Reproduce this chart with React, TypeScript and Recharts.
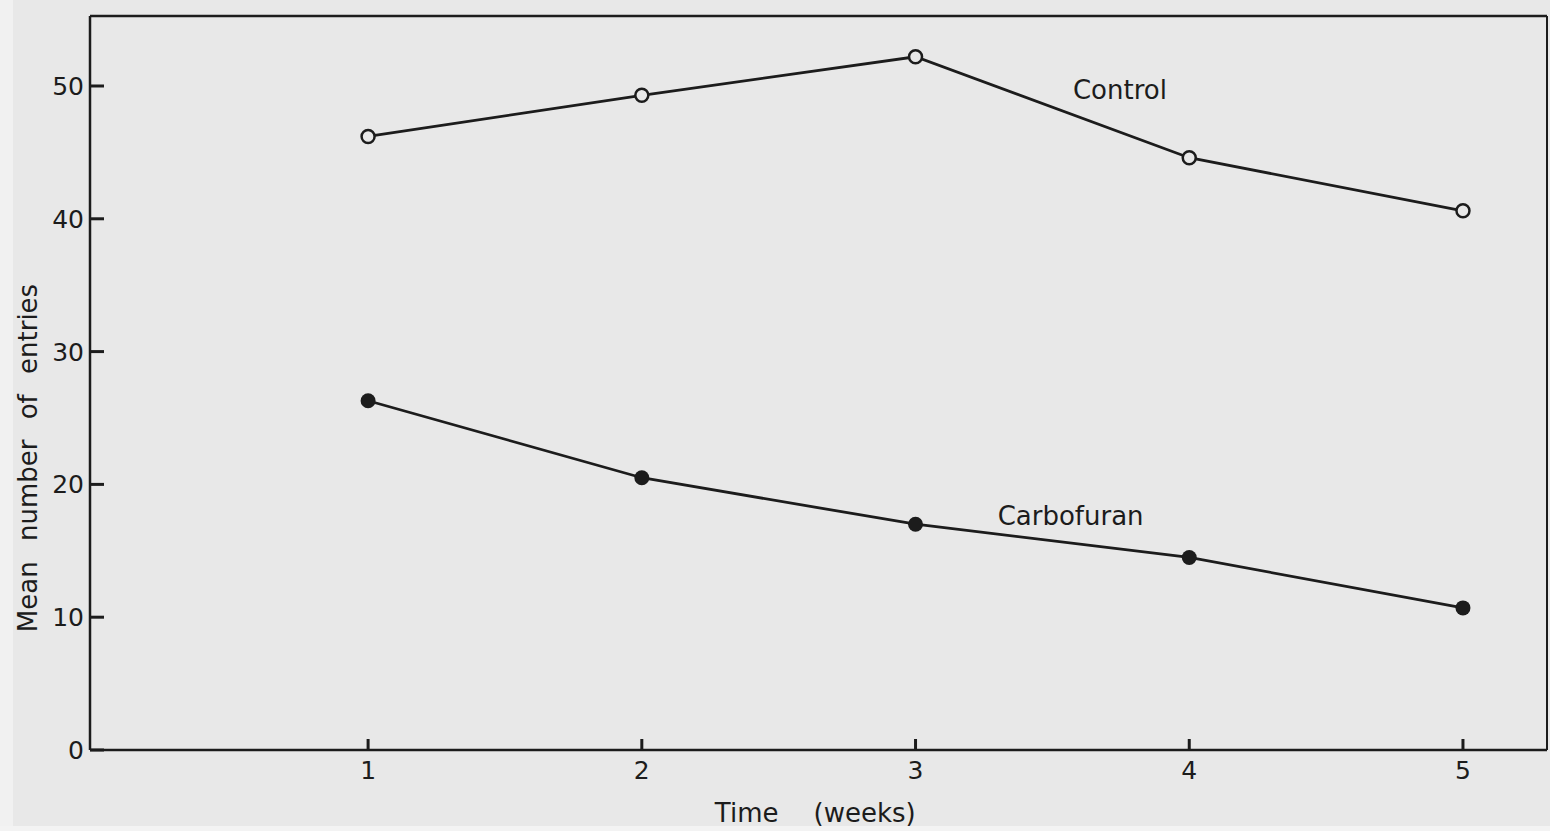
import React from "react";
import {
    LineChart,
    Line,
    XAxis,
    YAxis,
    ReferenceLine,
    ReferenceDot,
} from "recharts";

// weeks after treatment
const weeks = [1, 2, 3, 4, 5];
// mean number of entries
const controlValues = [46.2, 49.3, 52.2, 44.6, 40.6];
const carbofuranValues = [26.3, 20.5, 17.0, 14.5, 10.7];

const xTicks = [1, 2, 3, 4, 5];
const yTicks = [0, 10, 20, 30, 40, 50];

const X_MIN = -0.016;
const X_MAX = 5.307;
const Y_MAX = 55.27;

const INK = "#1c1c1c";
const PAPER = "#e8e8e8";
const FONT = "'DejaVu Sans', 'Liberation Sans', sans-serif";

const data = weeks.map((w, i) => ({
    week: w,
    control: controlValues[i],
    carbofuran: carbofuranValues[i],
}));

const YTick = (props: any) => {
    const x = Number(props.x);
    const y = Number(props.y);
    return (
        <g>
            <path d={`M${x},${y}H${x + 14}`} stroke={INK} strokeWidth={3} fill="none" />
            <text x={x - 6} y={y + 9} textAnchor="end" fontSize={25} fill={INK} fontFamily={FONT}>
                {props.payload.value}
            </text>
        </g>
    );
};

const XTick = (props: any) => {
    const x = Number(props.x);
    const y = Number(props.y);
    return (
        <g>
            <path d={`M${x},${y}V${y - 11}`} stroke={INK} strokeWidth={3} fill="none" />
            <text x={x} y={y + 29} textAnchor="middle" fontSize={25} fill={INK} fontFamily={FONT}>
                {props.payload.value}
            </text>
        </g>
    );
};

const XTitle = (props: any) => {
    const { viewBox } = props;
    const cx = viewBox.x + viewBox.width / 2;
    const y = viewBox.y + 72;
    return (
        <g fontSize={26} fill={INK} fontFamily={FONT}>
            <text x={cx - 40} y={y} textAnchor="end">Time</text>
            <text x={cx - 5} y={y} textAnchor="start">(weeks)</text>
        </g>
    );
};

const YTitle = (props: any) => {
    const { viewBox } = props;
    const cx = 37;
    const cy = viewBox.y + viewBox.height / 2 + 75;
    return (
        <text
            x={cx}
            y={cy}
            transform={`rotate(-90 ${cx} ${cy})`}
            textAnchor="middle"
            fontSize={26}
            fill={INK}
            fontFamily={FONT}
            style={{ wordSpacing: "12px" }}
        >
            Mean number of entries
        </text>
    );
};

const seriesLabel = (text: string) => (props: any) => {
    const { viewBox } = props;
    return (
        <text x={viewBox.x} y={viewBox.y} fontSize={26} fill={INK} fontFamily={FONT}>
            {text}
        </text>
    );
};

const OpenDot = (props: any) => {
    const { cx, cy } = props;
    return <circle cx={cx} cy={cy} r={6.5} fill={PAPER} stroke={INK} strokeWidth={2.5} />;
};

const FilledDot = (props: any) => {
    const { cx, cy } = props;
    return <circle cx={cx} cy={cy} r={7.5} fill={INK} stroke="none" />;
};

export default function App() {
    return (
        <div style={{ position: "absolute", left: 0, top: 0, width: 1550, height: 831, background: PAPER, overflow: "hidden" }}>
            <div style={{ position: "absolute", left: 0, top: 0, width: 13, height: 831, background: "#f1f1f1" }} />
            <div style={{ position: "absolute", left: 0, top: 826, width: 1550, height: 5, background: "#f3f3f3" }} />
            <div style={{ position: "absolute", left: 0, top: 0 }}>
                <LineChart width={1550} height={831} data={data} margin={{ top: 16, right: 3, left: 0, bottom: 0 }}>
                    <XAxis
                        dataKey="week"
                        type="number"
                        domain={[X_MIN, X_MAX]}
                        ticks={xTicks}
                        allowDataOverflow
                        height={81}
                        tickSize={0}
                        tickMargin={0}
                        tickLine={false}
                        tick={<XTick />}
                        axisLine={{ stroke: INK, strokeWidth: 2.5 }}
                        label={<XTitle />}
                    />
                    <YAxis
                        type="number"
                        domain={[0, Y_MAX]}
                        ticks={yTicks}
                        allowDataOverflow
                        width={90}
                        tickSize={0}
                        tickMargin={0}
                        tickLine={false}
                        tick={<YTick />}
                        axisLine={{ stroke: INK, strokeWidth: 2.5 }}
                        label={<YTitle />}
                    />
                    <ReferenceLine y={Y_MAX} stroke={INK} strokeWidth={2.5} ifOverflow="visible" />
                    <ReferenceLine x={X_MAX} stroke={INK} strokeWidth={2} ifOverflow="visible" />
                    <Line
                        dataKey="control"
                        stroke={INK}
                        strokeWidth={2.8}
                        dot={<OpenDot />}
                        activeDot={false}
                        isAnimationActive={false}
                    />
                    <Line
                        dataKey="carbofuran"
                        stroke={INK}
                        strokeWidth={2.8}
                        dot={<FilledDot />}
                        activeDot={false}
                        isAnimationActive={false}
                    />
                    <ReferenceDot x={3.575} y={49.0} r={0} stroke="none" label={seriesLabel("Control")} />
                    <ReferenceDot x={3.3} y={16.95} r={0} stroke="none" label={seriesLabel("Carbofuran")} />
                </LineChart>
            </div>
        </div>
    );
}
